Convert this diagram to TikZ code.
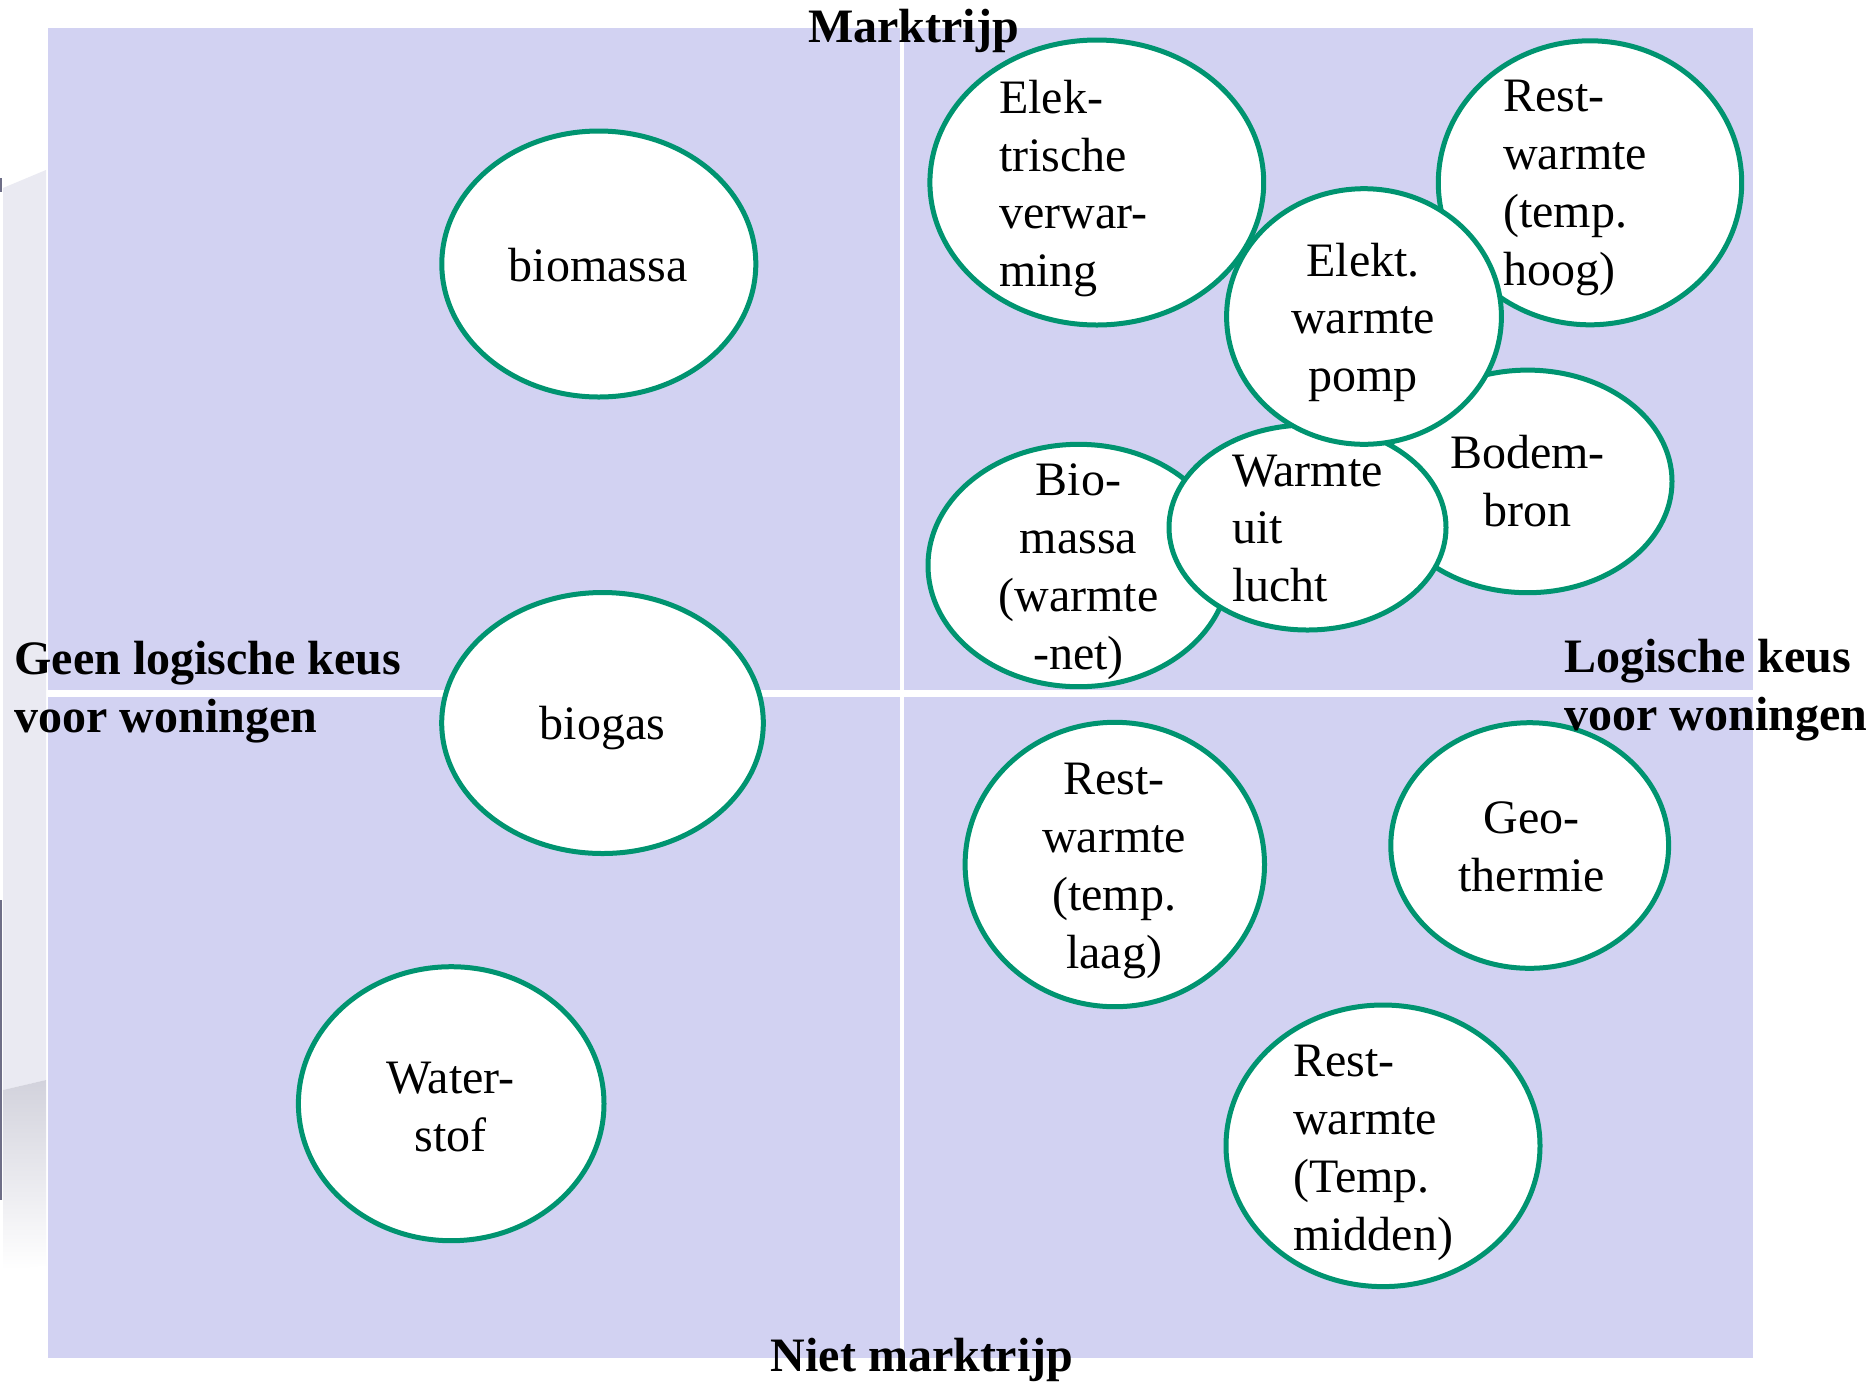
\documentclass[tikz,border=0pt]{standalone}
\usepackage{fontspec}
\setmainfont{Liberation Serif}
\usetikzlibrary{shapes.geometric}
\definecolor{quadblue}{RGB}{210,210,242}
\definecolor{ringgreen}{RGB}{0,148,112}
\definecolor{edgegray}{RGB}{234,234,242}
\definecolor{edgemid}{RGB}{210,210,220}
\definecolor{edgedark}{RGB}{110,110,135}
\tikzset{
  bubble/.style={ellipse, draw=ringgreen, fill=white, line width=2.5pt, inner sep=0pt},
  btext/.style={font=\fontsize{24}{28.9}\selectfont, inner sep=0pt, text=black},
  axislabel/.style={font=\fontsize{24}{28.7}\selectfont\bfseries, inner sep=0pt, text=black},
}
\begin{document}
\begin{tikzpicture}[x=0.5pt,y=-0.5pt]
\useasboundingbox (0,0) rectangle (1873,1383);
\fill[white] (0,0) rectangle (1873,1383);
% faint slide-edge remnants on the far left
\fill[edgegray] (3,188) -- (46,170) -- (46,1080) -- (3,1090) -- cycle;
\shade[top color=edgemid, bottom color=white] (3,1090) -- (46,1080) -- (46,1265) -- (3,1270) -- cycle;
\draw[edgedark, line width=1pt] (1,178) -- (1,192);
\draw[edgedark, line width=1pt] (1,900) -- (1,1200);
% quadrant background
\fill[quadblue] (48,28) rectangle (1753,1358);
\fill[white] (48,689.5) rectangle (1753,696.5);
\fill[white] (900,28) rectangle (903.5,1358);

% bubbles (minimum width/height in pt = radius in px)
\node[bubble, minimum width=157pt, minimum height=133pt] (biomassa) at (598.8,264) {};
\node[bubble, minimum width=160.8pt, minimum height=130.5pt] (biogas) at (602.5,723) {};
\node[bubble, minimum width=152.8pt, minimum height=137pt] (waterstof) at (451.2,1103.7) {};
\node[bubble, minimum width=150.6pt, minimum height=121.2pt] (biowarmte) at (1078.6,565.5) {};
\node[bubble, minimum width=144.4pt, minimum height=111.3pt] (bodem) at (1527.6,481.4) {};
\node[bubble, minimum width=138.5pt, minimum height=102.5pt] (lucht) at (1307.5,527.5) {};
\node[bubble, minimum width=166.9pt, minimum height=142.5pt] (elek) at (1096.8,182.5) {};
\node[bubble, minimum width=151.7pt, minimum height=142pt] (resthoog) at (1590,182.8) {};
\node[bubble, minimum width=137.4pt, minimum height=127.8pt] (pomp) at (1364,316.5) {};
\node[bubble, minimum width=149.7pt, minimum height=142.2pt] (restlaag) at (1114.8,864.5) {};
\node[bubble, minimum width=138.9pt, minimum height=122.8pt] (geo) at (1529.7,845.5) {};
\node[bubble, minimum width=157pt, minimum height=140.8pt] (restmidden) at (1383,1145.8) {};

% bubble texts (anchor at the baseline of the last line)
\node[btext, anchor=base] (biomassa-t) at (598.3,281.6) {biomassa};
\node[btext, anchor=base] (biogas-t) at (602.5,739.2) {biogas};
\node[btext, anchor=base, align=center] (waterstof-t) at (450.5,1151.7) {Water-\\stof};
\node[btext, anchor=base west, align=left] (elek-t) at (998.7,286.7) {Elek-\\trische\\verwar-\\ming};
\node[btext, anchor=base west, align=left] (resthoog-t) at (1502.7,285) {Rest-\\warmte\\(temp.\\hoog)};
\node[btext, anchor=base, align=center] (pomp-t) at (1363,391.7) {Elekt.\\warmte\\pomp};
\node[btext, anchor=base, align=center] (bodem-t) at (1527.6,526.7) {Bodem-\\bron};
\node[btext, anchor=base west, align=left] (lucht-t) at (1231.6,601.7) {Warmte\\uit\\lucht};
\node[btext, anchor=base, align=center] (biowarmte-t) at (1078.6,669.3) {Bio-\\massa\\(warmte\\-net)};
\node[btext, anchor=base, align=center] (restlaag-t) at (1114.1,968.3) {Rest-\\warmte\\(temp.\\laag)};
\node[btext, anchor=base, align=center] (geo-t) at (1531.9,891.7) {Geo-\\thermie};
\node[btext, anchor=base west, align=left] (restmidden-t) at (1292.7,1250) {Rest-\\warmte\\(Temp.\\midden)};

% axis labels
\node[axislabel, anchor=base] (top-l) at (913.4,42.5) {Marktrijp};
\node[axislabel, anchor=base] (bottom-l) at (922,1371.7) {Niet marktrijp};
\node[axislabel, anchor=base west, align=left] (left-l) at (14,732) {Geen logische keus\\voor woningen};
\node[axislabel, anchor=base west, align=left] (right-l) at (1564,730) {Logische keus\\voor woningen};
\end{tikzpicture}
\end{document}
